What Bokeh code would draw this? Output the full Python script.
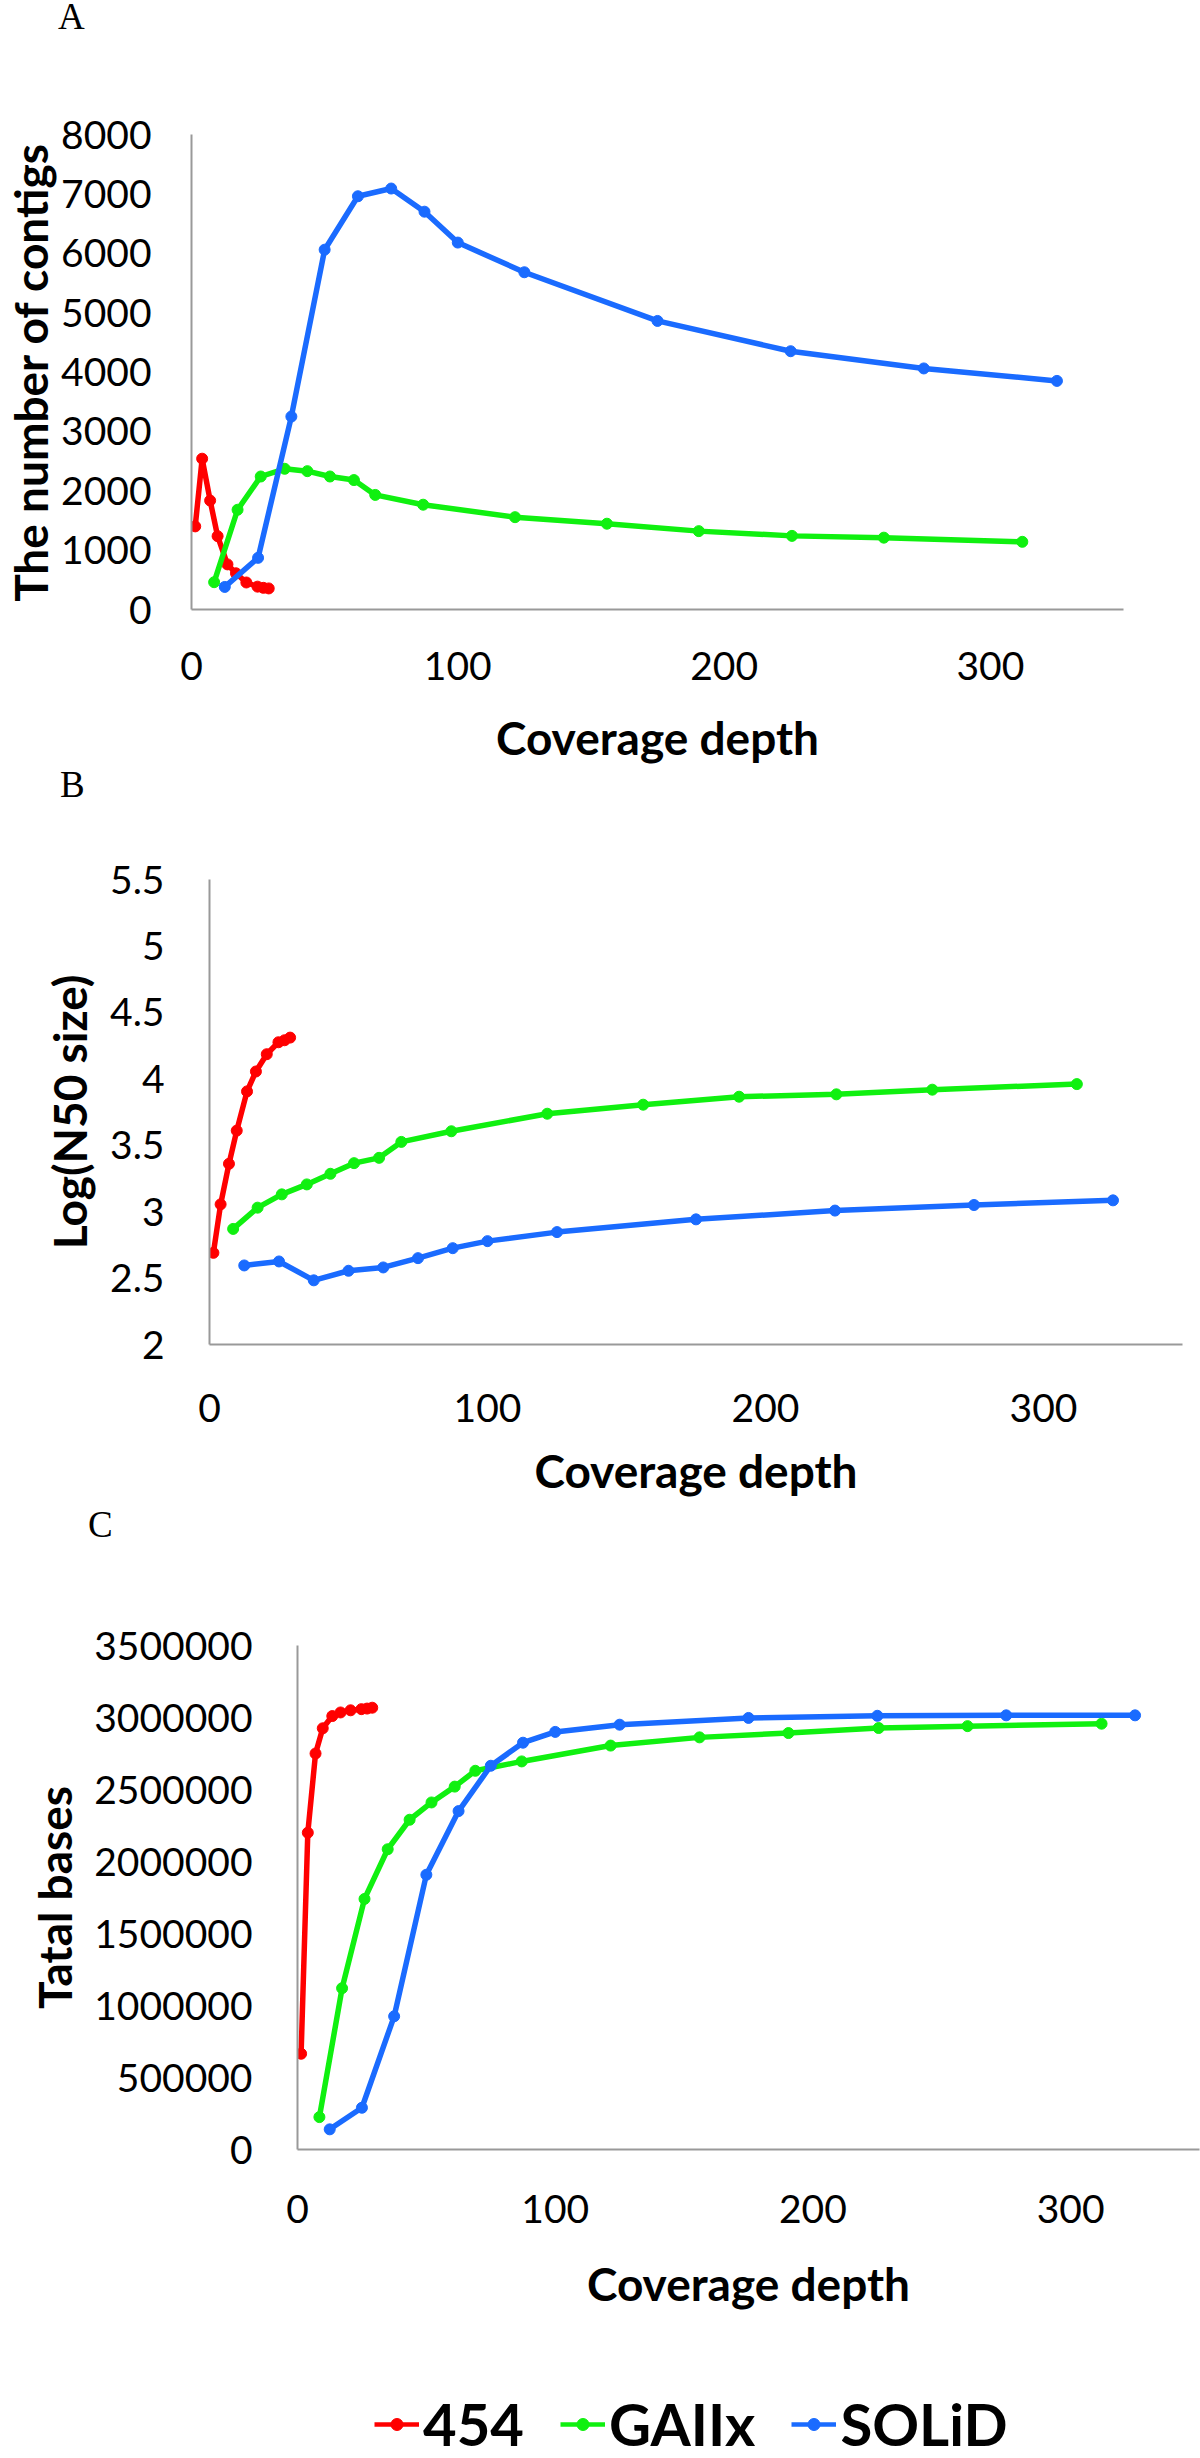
from bokeh.plotting import figure
from bokeh.models import FixedTicker, Legend, LegendItem, Range1d, Div
from bokeh.embed import file_html
from bokeh.resources import INLINE

# ---------------- data ----------------
series_names = ["454", "GAIIx", "SOLiD"]
series_colors = ["#FF0000", "#10F010", "#1A6BFF"]

depth_454 = [1.4, 4, 7, 9.8, 13.5, 16.7, 20.6, 24.8, 27, 29]
depth_gaiix = [8.5, 17.3, 26, 35, 43.5, 52, 61, 69, 87, 121.5, 156, 190.5, 225.5, 260, 312]
depth_solid = [12.5, 25, 37.5, 50, 62.5, 75, 87.5, 100, 125, 175, 225, 275, 325]

contigs_454 = [1400, 2540, 1835, 1235, 760, 610, 455, 385, 365, 355]
contigs_gaiix = [460, 1680, 2240, 2370, 2330, 2240, 2180, 1930, 1765, 1555, 1445, 1320, 1240, 1210, 1140]
contigs_solid = [380, 870, 3250, 6060, 6960, 7090, 6700, 6180, 5680, 4860, 4350, 4060, 3850]

logn50_454 = [2.69, 3.055, 3.36, 3.61, 3.905, 4.055, 4.185, 4.275, 4.29, 4.31]
logn50_gaiix = [2.87, 3.03, 3.13, 3.205, 3.285, 3.365, 3.405, 3.525, 3.605, 3.737, 3.805, 3.865, 3.883, 3.918, 3.96]
logn50_solid = [2.595, 2.625, 2.483, 2.555, 2.58, 2.65, 2.725, 2.778, 2.846, 2.942, 3.008, 3.05, 3.085]

bases_454 = [665000, 2200000, 2750000, 2925000, 3010000, 3035000, 3050000, 3058000, 3062000, 3068000]
bases_gaiix = [225000, 1120000, 1740000, 2085000, 2290000, 2410000, 2520000, 2630000, 2695000, 2805000,
               2862000, 2892000, 2927000, 2940000, 2957000]
bases_solid = [140000, 290000, 925000, 1908000, 2350000, 2665000, 2825000, 2900000, 2950000, 2997000,
               3012000, 3015000, 3015000]

x_ticks = [0, 100, 200, 300]
contig_ticks = [0, 1000, 2000, 3000, 4000, 5000, 6000, 7000, 8000]
contig_labels = ["0", "1000", "2000", "3000", "4000", "5000", "6000", "7000", "8000"]
log_ticks = [2, 2.5, 3, 3.5, 4, 4.5, 5, 5.5]
log_labels = ["2", "2.5", "3", "3.5", "4", "4.5", "5", "5.5"]
bases_ticks = [0, 500000, 1000000, 1500000, 2000000, 2500000, 3000000, 3500000]
bases_labels = ["0", "500000", "1000000", "1500000", "2000000", "2500000", "3000000", "3500000"]

x_title = "Coverage depth"
panel_letters = ["A", "B", "C"]
y_titles = ["The number of contigs", "Log(N50 size)", "Tatal bases"]

# ---------------- styling ----------------
W = 1200
TICK_FONT = "39px"
LABEL_FONT = "46px"
AXIS_COLOR = "#999999"
depths = [depth_454, depth_gaiix, depth_solid]


def letter_div(letter, height, line_height, left):
    html = ('<div style="margin:0;padding:0;margin-left:%dpx;font-family:\'Liberation Serif\',serif;'
            'font-size:37px;line-height:%dpx;color:black;">%s</div>' % (left, line_height, letter))
    return Div(text=html, width=W, height=height, margin=0)


def make_panel(height, bl, br, bt, bb, y_range, y_ticks, y_labels, y_title, ys,
               x_std, y_std, xl_std, yl_std):
    p = figure(width=W, height=height, output_backend="svg", toolbar_location=None,
               x_range=Range1d(0, 350), y_range=Range1d(*y_range),
               min_border_left=bl, min_border_right=br, min_border_top=bt, min_border_bottom=bb)
    p.outline_line_color = None
    p.grid.visible = False

    for ax in (p.xaxis[0], p.yaxis[0]):
        ax.axis_line_color = AXIS_COLOR
        ax.axis_line_width = 2
        ax.major_tick_line_color = None
        ax.minor_tick_line_color = None
        ax.major_tick_out = 0
        ax.major_tick_in = 0
        ax.major_label_text_font = "Lato"
        ax.major_label_text_font_size = TICK_FONT
        ax.major_label_text_color = "black"
        ax.axis_label_text_font = "Lato"
        ax.axis_label_text_font_size = LABEL_FONT
        ax.axis_label_text_font_style = "bold"
        ax.axis_label_text_color = "black"

    p.xaxis.ticker = FixedTicker(ticks=x_ticks)
    p.yaxis.ticker = FixedTicker(ticks=y_ticks)
    p.yaxis.major_label_overrides = dict(zip(y_ticks, y_labels))
    p.xaxis.axis_label = x_title
    p.yaxis.axis_label = y_title
    p.xaxis.major_label_standoff = x_std
    p.yaxis.major_label_standoff = y_std
    p.xaxis.axis_label_standoff = xl_std
    p.yaxis.axis_label_standoff = yl_std

    for d, yv, c in zip(depths, ys, series_colors):
        p.line(d, yv, line_color=c, line_width=5.5, line_join="round")
        p.scatter(d, yv, size=11, fill_color=c, line_color=c)
    return p


divA = letter_div(panel_letters[0], 40, 34, 58)
pA = make_panel(730, 188, 77, 94, 161, (0, 8000), contig_ticks, contig_labels, y_titles[0],
                [contigs_454, contigs_gaiix, contigs_solid], 42, 40, 27, 0)
divB = letter_div(panel_letters[1], 30, 30, 60)
pB = make_panel(705, 209, 18, 79, 161, (2, 5.5), log_ticks, log_labels, y_titles[1],
                [logn50_454, logn50_gaiix, logn50_solid], 49, 45, 18, 10)
divC = letter_div(panel_letters[2], 40, 40, 88)
pC = make_panel(833, 297, 1, 100, 229, (0, 3500000), bases_ticks, bases_labels, y_titles[2],
                [bases_454, bases_gaiix, bases_solid], 45, 45, 30, 9)

# legend strip (series drawn outside its view; only the legend entries show)
pL = figure(width=W, height=80, output_backend="svg", toolbar_location=None,
            x_range=Range1d(1000, 1001), y_range=Range1d(1e8, 1e8 + 1),
            min_border_left=374, min_border_right=0, min_border_top=0, min_border_bottom=0)
pL.axis.visible = False
pL.grid.visible = False
pL.outline_line_color = None
items = []
for n, d, yv, c in zip(series_names, depths, [bases_454, bases_gaiix, bases_solid], series_colors):
    lr = pL.line(d, yv, line_color=c, line_width=4.5)
    sr = pL.scatter(d, yv, size=10, fill_color=c, line_color=c)
    items.append(LegendItem(label=n, renderers=[lr, sr]))
legend = Legend(items=items, location="bottom_left", orientation="horizontal", padding=0, margin=0,
                spacing=36, label_standoff=4, glyph_width=45, glyph_height=30,
                label_text_font="Lato", label_text_font_size="58px", label_text_font_style="bold",
                label_text_color="black", border_line_color=None, background_fill_alpha=0)
pL.add_layout(legend, "center")

open("out.html", "w").write(file_html([divA, pA, divB, pB, divC, pC, pL], INLINE))
